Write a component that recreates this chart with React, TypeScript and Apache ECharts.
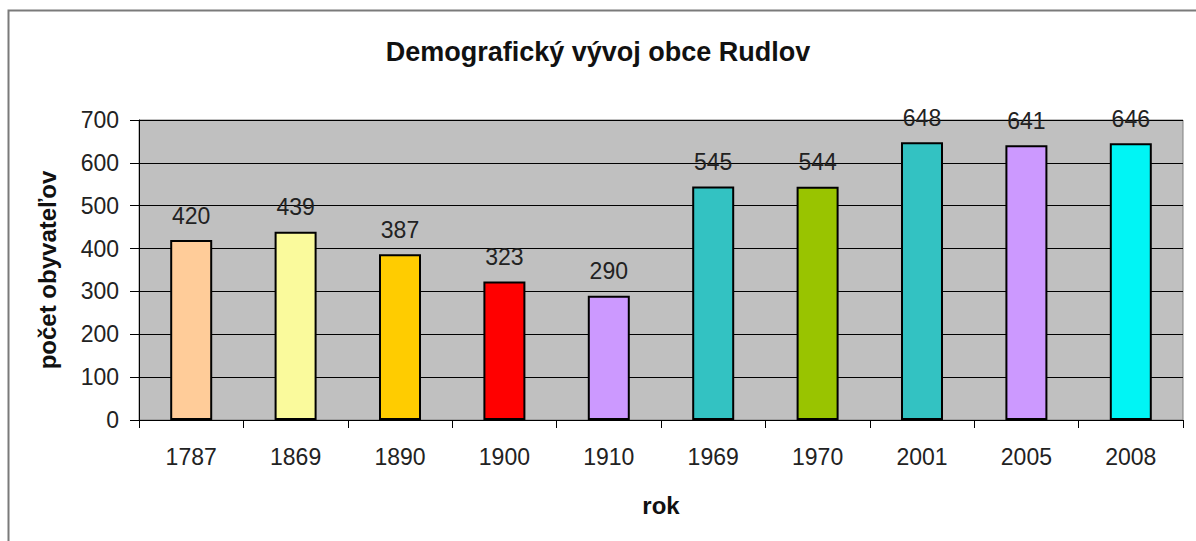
import React, { useEffect, useRef } from "react";
import * as echarts from "echarts";

const years = ["1787", "1869", "1890", "1900", "1910", "1969", "1970", "2001", "2005", "2008"];
const population = [420, 439, 387, 323, 290, 545, 544, 648, 641, 646];
const barColors = ["#FFCC99", "#FAFA9C", "#FFCC00", "#FF0000", "#CC99FF", "#33C2C2", "#99C400", "#33C2C2", "#CC99FF", "#00F5F5"];
const yTicks = { min: 0, max: 700, interval: 100 };

const FONT = 'Arial, "Liberation Sans", sans-serif';

export default function App() {
  const ref = useRef<HTMLDivElement>(null);
  useEffect(() => {
    document.body.style.margin = "0";
    const chart = echarts.init(ref.current!, null, { renderer: "svg" });
    chart.setOption({
      animation: false,
      backgroundColor: "#ffffff",
      title: {
        text: "Demografický vývoj obce Rudlov",
        left: "center",
        top: 33,
        textStyle: { fontFamily: FONT, fontSize: 27, fontWeight: "bold", color: "#111" },
      },
      graphic: [
        {
          type: "rect",
          shape: { x: 8.5, y: 10.5, width: 1200, height: 600 },
          style: { fill: "none", stroke: "#7a7a7a", lineWidth: 2 },
          z: 100,
        },
      ],
      grid: {
        left: 139,
        right: 13,
        top: 120,
        bottom: 121,
        show: true,
        backgroundColor: "#c0c0c0",
        borderColor: "#808080",
        borderWidth: 1,
      },
      xAxis: {
        type: "category",
        data: years,
        name: "rok",
        nameLocation: "middle",
        nameGap: 73,
        nameTextStyle: { fontFamily: FONT, fontSize: 24, fontWeight: "bold", color: "#111" },
        axisLine: { lineStyle: { color: "#000", width: 1 } },
        axisTick: { show: true, length: 8, lineStyle: { color: "#000" } },
        axisLabel: { fontFamily: FONT, fontSize: 23, color: "#222", margin: 25 },
      },
      yAxis: {
        type: "value",
        min: yTicks.min,
        max: yTicks.max,
        interval: yTicks.interval,
        name: "počet obyvateľov",
        nameLocation: "middle",
        nameGap: 80,
        nameRotate: 90,
        nameTextStyle: { fontFamily: FONT, fontSize: 24, fontWeight: "bold", color: "#111" },
        axisLine: { show: true, lineStyle: { color: "#000", width: 1 } },
        axisTick: { show: true, length: 9, lineStyle: { color: "#000" } },
        axisLabel: { fontFamily: FONT, fontSize: 23, color: "#222", margin: 20 },
        splitLine: { show: true, lineStyle: { color: "#000", width: 1 } },
      },
      series: [
        {
          type: "bar",
          data: population.map((v, i) => ({ value: v, itemStyle: { color: barColors[i] } })),
          barWidth: 42,
          itemStyle: { borderColor: "#000", borderWidth: 2 },
          label: {
            show: true,
            position: "top",
            distance: 13,
            fontFamily: FONT,
            fontSize: 23,
            color: "#222",
          },
        },
      ],
    });
    return () => chart.dispose();
  }, []);
  return <div ref={ref} style={{ width: 1196, height: 541 }} />;
}
